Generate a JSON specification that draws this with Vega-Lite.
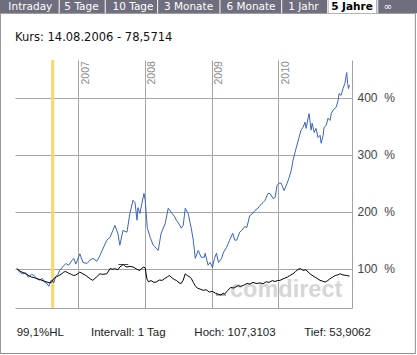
{
"$schema": "https://vega.github.io/schema/vega-lite/v6.json",
"width": 337, "height": 248,
"autosize": {"type": "none"},
"padding": {"left": 15, "top": 60, "right": 65, "bottom": 47},
"background": "white",
"config": {"view": {"stroke": null}, "font": "Liberation Sans"},
"datasets": {
"series": [
{"date":"2006-01-30","s":"A","value":100},{"date":"2006-02-15","s":"A","value":94},{"date":"2006-03-01","s":"A","value":91},{"date":"2006-03-18","s":"A","value":93},{"date":"2006-04-03","s":"A","value":85},{"date":"2006-04-20","s":"A","value":90},{"date":"2006-05-05","s":"A","value":88},{"date":"2006-05-20","s":"A","value":82},{"date":"2006-06-04","s":"A","value":80},{"date":"2006-06-18","s":"A","value":83},{"date":"2006-07-01","s":"A","value":76},{"date":"2006-07-14","s":"A","value":74},{"date":"2006-07-24","s":"A","value":69},{"date":"2006-08-04","s":"A","value":79},{"date":"2006-08-14","s":"A","value":78.6},{"date":"2006-08-20","s":"A","value":75},{"date":"2006-08-31","s":"A","value":86},{"date":"2006-09-12","s":"A","value":90},{"date":"2006-09-22","s":"A","value":97},{"date":"2006-10-08","s":"A","value":103},{"date":"2006-10-25","s":"A","value":109},{"date":"2006-11-10","s":"A","value":106},{"date":"2006-11-27","s":"A","value":114},{"date":"2006-12-08","s":"A","value":118},{"date":"2006-12-19","s":"A","value":108},{"date":"2007-01-10","s":"A","value":126},{"date":"2007-01-27","s":"A","value":111},{"date":"2007-02-18","s":"A","value":109},{"date":"2007-03-06","s":"A","value":115},{"date":"2007-03-23","s":"A","value":118},{"date":"2007-04-13","s":"A","value":113},{"date":"2007-04-30","s":"A","value":123},{"date":"2007-05-22","s":"A","value":139},{"date":"2007-06-07","s":"A","value":150},{"date":"2007-06-24","s":"A","value":155},{"date":"2007-07-10","s":"A","value":167},{"date":"2007-07-21","s":"A","value":176},{"date":"2007-08-06","s":"A","value":162},{"date":"2007-08-17","s":"A","value":141},{"date":"2007-09-03","s":"A","value":167},{"date":"2007-09-25","s":"A","value":164},{"date":"2007-10-11","s":"A","value":197},{"date":"2007-10-28","s":"A","value":220},{"date":"2007-11-08","s":"A","value":216},{"date":"2007-11-19","s":"A","value":185},{"date":"2007-11-24","s":"A","value":207},{"date":"2007-12-05","s":"A","value":197},{"date":"2007-12-16","s":"A","value":215},{"date":"2007-12-27","s":"A","value":232},{"date":"2008-01-03","s":"A","value":220},{"date":"2008-01-14","s":"A","value":172},{"date":"2008-01-30","s":"A","value":155},{"date":"2008-02-16","s":"A","value":141},{"date":"2008-03-03","s":"A","value":136},{"date":"2008-03-14","s":"A","value":132},{"date":"2008-03-30","s":"A","value":162},{"date":"2008-04-21","s":"A","value":179},{"date":"2008-05-08","s":"A","value":206},{"date":"2008-05-24","s":"A","value":199},{"date":"2008-06-10","s":"A","value":192},{"date":"2008-06-21","s":"A","value":185},{"date":"2008-07-07","s":"A","value":178},{"date":"2008-07-18","s":"A","value":171},{"date":"2008-07-29","s":"A","value":176},{"date":"2008-08-09","s":"A","value":206},{"date":"2008-08-25","s":"A","value":197},{"date":"2008-09-11","s":"A","value":171},{"date":"2008-09-22","s":"A","value":150},{"date":"2008-10-03","s":"A","value":118},{"date":"2008-10-19","s":"A","value":132},{"date":"2008-11-04","s":"A","value":120},{"date":"2008-11-21","s":"A","value":120},{"date":"2008-11-26","s":"A","value":127},{"date":"2008-12-12","s":"A","value":106},{"date":"2008-12-23","s":"A","value":111},{"date":"2009-01-05","s":"A","value":102},{"date":"2009-01-16","s":"A","value":118},{"date":"2009-01-27","s":"A","value":127},{"date":"2009-02-07","s":"A","value":111},{"date":"2009-02-24","s":"A","value":118},{"date":"2009-03-07","s":"A","value":129},{"date":"2009-03-23","s":"A","value":137},{"date":"2009-04-09","s":"A","value":150},{"date":"2009-04-26","s":"A","value":162},{"date":"2009-05-07","s":"A","value":150},{"date":"2009-05-18","s":"A","value":150},{"date":"2009-06-03","s":"A","value":164},{"date":"2009-06-14","s":"A","value":167},{"date":"2009-07-01","s":"A","value":174},{"date":"2009-07-12","s":"A","value":172},{"date":"2009-07-28","s":"A","value":193},{"date":"2009-08-14","s":"A","value":197},{"date":"2009-08-25","s":"A","value":202},{"date":"2009-09-11","s":"A","value":206},{"date":"2009-09-22","s":"A","value":211},{"date":"2009-10-09","s":"A","value":216},{"date":"2009-10-20","s":"A","value":220},{"date":"2009-11-05","s":"A","value":232},{"date":"2009-11-16","s":"A","value":232},{"date":"2009-12-03","s":"A","value":223},{"date":"2009-12-14","s":"A","value":225},{"date":"2009-12-25","s":"A","value":246},{"date":"2010-01-05","s":"A","value":250},{"date":"2010-01-16","s":"A","value":250},{"date":"2010-02-01","s":"A","value":237},{"date":"2010-02-18","s":"A","value":250},{"date":"2010-03-01","s":"A","value":260},{"date":"2010-03-12","s":"A","value":272},{"date":"2010-03-22","s":"A","value":290},{"date":"2010-04-08","s":"A","value":311},{"date":"2010-04-24","s":"A","value":330},{"date":"2010-05-05","s":"A","value":343},{"date":"2010-05-16","s":"A","value":348},{"date":"2010-05-27","s":"A","value":357},{"date":"2010-06-02","s":"A","value":346},{"date":"2010-06-13","s":"A","value":365},{"date":"2010-06-18","s":"A","value":372},{"date":"2010-06-29","s":"A","value":343},{"date":"2010-07-05","s":"A","value":355},{"date":"2010-07-16","s":"A","value":339},{"date":"2010-07-26","s":"A","value":346},{"date":"2010-08-06","s":"A","value":330},{"date":"2010-08-17","s":"A","value":334},{"date":"2010-08-23","s":"A","value":320},{"date":"2010-09-03","s":"A","value":334},{"date":"2010-09-08","s":"A","value":348},{"date":"2010-09-19","s":"A","value":351},{"date":"2010-09-30","s":"A","value":364},{"date":"2010-10-11","s":"A","value":360},{"date":"2010-10-17","s":"A","value":372},{"date":"2010-10-27","s":"A","value":378},{"date":"2010-11-13","s":"A","value":383},{"date":"2010-11-24","s":"A","value":395},{"date":"2010-11-29","s":"A","value":407},{"date":"2010-12-10","s":"A","value":404},{"date":"2010-12-21","s":"A","value":416},{"date":"2010-12-31","s":"A","value":425},{"date":"2011-01-10","s":"A","value":444},{"date":"2011-01-15","s":"A","value":425},{"date":"2011-01-20","s":"A","value":416},{"date":"2011-01-25","s":"A","value":422},
{"date":"2006-01-30","s":"I","value":100},{"date":"2006-02-15","s":"I","value":96},{"date":"2006-02-27","s":"I","value":94},{"date":"2006-03-13","s":"I","value":92},{"date":"2006-03-26","s":"I","value":90},{"date":"2006-04-10","s":"I","value":87},{"date":"2006-04-22","s":"I","value":85},{"date":"2006-05-08","s":"I","value":84},{"date":"2006-05-20","s":"I","value":82.5},{"date":"2006-06-05","s":"I","value":81},{"date":"2006-06-16","s":"I","value":79.5},{"date":"2006-07-01","s":"I","value":78},{"date":"2006-07-14","s":"I","value":76.5},{"date":"2006-07-31","s":"I","value":75},{"date":"2006-08-10","s":"I","value":77},{"date":"2006-08-20","s":"I","value":82.5},{"date":"2006-09-05","s":"I","value":86},{"date":"2006-09-18","s":"I","value":88},{"date":"2006-10-03","s":"I","value":91},{"date":"2006-10-14","s":"I","value":94},{"date":"2006-10-25","s":"I","value":95},{"date":"2006-11-10","s":"I","value":92},{"date":"2006-11-24","s":"I","value":90},{"date":"2006-12-08","s":"I","value":88},{"date":"2006-12-19","s":"I","value":89},{"date":"2007-01-03","s":"I","value":92},{"date":"2007-01-10","s":"I","value":94},{"date":"2007-01-27","s":"I","value":91},{"date":"2007-02-12","s":"I","value":88},{"date":"2007-03-06","s":"I","value":82.5},{"date":"2007-03-22","s":"I","value":79.5},{"date":"2007-04-10","s":"I","value":85},{"date":"2007-04-30","s":"I","value":91},{"date":"2007-05-15","s":"I","value":90},{"date":"2007-06-07","s":"I","value":91},{"date":"2007-06-24","s":"I","value":100},{"date":"2007-07-10","s":"I","value":99},{"date":"2007-07-21","s":"I","value":100},{"date":"2007-08-06","s":"I","value":98},{"date":"2007-08-17","s":"I","value":103},{"date":"2007-09-05","s":"I","value":107.3},{"date":"2007-09-15","s":"I","value":104},{"date":"2007-09-25","s":"I","value":103},{"date":"2007-10-11","s":"I","value":104},{"date":"2007-10-28","s":"I","value":103},{"date":"2007-11-13","s":"I","value":100},{"date":"2007-11-24","s":"I","value":98},{"date":"2007-12-05","s":"I","value":97},{"date":"2007-12-16","s":"I","value":101},{"date":"2007-12-27","s":"I","value":103},{"date":"2008-01-03","s":"I","value":101},{"date":"2008-01-12","s":"I","value":82},{"date":"2008-01-21","s":"I","value":77},{"date":"2008-02-04","s":"I","value":79},{"date":"2008-02-20","s":"I","value":76},{"date":"2008-03-03","s":"I","value":76.5},{"date":"2008-03-20","s":"I","value":80},{"date":"2008-04-05","s":"I","value":79.5},{"date":"2008-04-20","s":"I","value":83},{"date":"2008-05-05","s":"I","value":86},{"date":"2008-05-14","s":"I","value":88},{"date":"2008-05-28","s":"I","value":84},{"date":"2008-06-10","s":"I","value":81},{"date":"2008-06-21","s":"I","value":79.5},{"date":"2008-07-07","s":"I","value":75},{"date":"2008-07-18","s":"I","value":74},{"date":"2008-07-29","s":"I","value":80},{"date":"2008-08-09","s":"I","value":91},{"date":"2008-08-20","s":"I","value":88},{"date":"2008-08-31","s":"I","value":86},{"date":"2008-09-11","s":"I","value":83},{"date":"2008-09-22","s":"I","value":76},{"date":"2008-10-03","s":"I","value":70},{"date":"2008-10-14","s":"I","value":66},{"date":"2008-10-30","s":"I","value":64},{"date":"2008-11-16","s":"I","value":62},{"date":"2008-12-02","s":"I","value":63},{"date":"2008-12-19","s":"I","value":59},{"date":"2009-01-05","s":"I","value":60},{"date":"2009-01-21","s":"I","value":57},{"date":"2009-02-07","s":"I","value":55},{"date":"2009-02-20","s":"I","value":54},{"date":"2009-03-05","s":"I","value":57},{"date":"2009-03-13","s":"I","value":55.5},{"date":"2009-03-30","s":"I","value":62},{"date":"2009-04-15","s":"I","value":67},{"date":"2009-05-02","s":"I","value":66},{"date":"2009-05-24","s":"I","value":70},{"date":"2009-06-09","s":"I","value":69},{"date":"2009-06-26","s":"I","value":71},{"date":"2009-07-13","s":"I","value":74},{"date":"2009-07-30","s":"I","value":73},{"date":"2009-08-15","s":"I","value":76},{"date":"2009-09-01","s":"I","value":74},{"date":"2009-09-23","s":"I","value":75},{"date":"2009-10-09","s":"I","value":73.5},{"date":"2009-10-26","s":"I","value":77},{"date":"2009-11-11","s":"I","value":76},{"date":"2009-11-28","s":"I","value":79},{"date":"2009-12-14","s":"I","value":77.5},{"date":"2009-12-25","s":"I","value":79},{"date":"2010-01-10","s":"I","value":79.5},{"date":"2010-01-26","s":"I","value":82},{"date":"2010-02-18","s":"I","value":85},{"date":"2010-03-05","s":"I","value":88},{"date":"2010-03-22","s":"I","value":91},{"date":"2010-04-05","s":"I","value":95},{"date":"2010-04-19","s":"I","value":99},{"date":"2010-05-02","s":"I","value":100},{"date":"2010-05-16","s":"I","value":97},{"date":"2010-06-01","s":"I","value":98},{"date":"2010-06-13","s":"I","value":94},{"date":"2010-06-27","s":"I","value":90},{"date":"2010-07-21","s":"I","value":85},{"date":"2010-08-05","s":"I","value":82},{"date":"2010-08-17","s":"I","value":79.5},{"date":"2010-09-01","s":"I","value":78},{"date":"2010-09-14","s":"I","value":76.5},{"date":"2010-09-28","s":"I","value":79},{"date":"2010-10-11","s":"I","value":82.5},{"date":"2010-10-25","s":"I","value":85},{"date":"2010-11-08","s":"I","value":88},{"date":"2010-11-22","s":"I","value":89},{"date":"2010-12-05","s":"I","value":91},{"date":"2010-12-20","s":"I","value":89},{"date":"2011-01-10","s":"I","value":88},{"date":"2011-01-25","s":"I","value":87}
],
"years": [{"year":"2007","date":"2007-01-01"},{"year":"2008","date":"2008-01-01"},{"year":"2009","date":"2009-01-01"},{"year":"2010","date":"2010-01-01"}],
"hl": [{"date":"2007-09-05","value":107.31},{"date":"2009-02-20","value":53.91}]
},
"layer": [
{"data":{"values":[{}]},"mark":{"type":"rect","color":"#6e6e7e"},
 "encoding":{"x":{"datum":{"year":2005,"month":6,"date":1},"type":"temporal"},"x2":{"datum":{"year":2012,"month":12,"date":1}},"y":{"datum":600,"type":"quantitative"},"y2":{"datum":547.9}}},
{"data":{"values":[{}]},"mark":{"type":"rect","fill":"#ffffff","fillOpacity":0,"stroke":"#8c8c8c","strokeWidth":1},
 "encoding":{"x":{"datum":{"year":2005,"month":11,"date":1},"type":"temporal"},"x2":{"datum":{"year":2012,"month":1,"date":21}},"y":{"datum":547.9,"type":"quantitative"},"y2":{"datum":-48.8}}},
{"data":{"values":[{}]},"mark":{"type":"rect","color":"#ffffff"},
 "encoding":{"x":{"datum":{"year":2010,"month":10,"date":2},"type":"temporal"},"x2":{"datum":{"year":2011,"month":6,"date":22}},"y":{"datum":600,"type":"quantitative"},"y2":{"datum":547.9}}},
{"data":{"values":[{}]},"mark":{"type":"rule","color":"#ffffff"},"encoding":{"x":{"datum":{"year":2006,"month":9,"date":19},"type":"temporal"},"y":{"datum":600,"type":"quantitative"},"y2":{"datum":547.9}}},
{"data":{"values":[{}]},"mark":{"type":"rule","color":"#ffffff"},"encoding":{"x":{"datum":{"year":2007,"month":5,"date":29},"type":"temporal"},"y":{"datum":600,"type":"quantitative"},"y2":{"datum":547.9}}},
{"data":{"values":[{}]},"mark":{"type":"rule","color":"#ffffff"},"encoding":{"x":{"datum":{"year":2008,"month":3,"date":11},"type":"temporal"},"y":{"datum":600,"type":"quantitative"},"y2":{"datum":547.9}}},
{"data":{"values":[{}]},"mark":{"type":"rule","color":"#ffffff"},"encoding":{"x":{"datum":{"year":2009,"month":2,"date":15},"type":"temporal"},"y":{"datum":600,"type":"quantitative"},"y2":{"datum":547.9}}},
{"data":{"values":[{}]},"mark":{"type":"rule","color":"#ffffff"},"encoding":{"x":{"datum":{"year":2010,"month":1,"date":19},"type":"temporal"},"y":{"datum":600,"type":"quantitative"},"y2":{"datum":547.9}}},
{"data":{"values":[{}]},"mark":{"type":"rule","color":"#ffffff"},"encoding":{"x":{"datum":{"year":2010,"month":9,"date":28},"type":"temporal"},"y":{"datum":600,"type":"quantitative"},"y2":{"datum":547.9}}},
{"data":{"values":[{}]},"mark":{"type":"rule","color":"#ffffff"},"encoding":{"x":{"datum":{"year":2011,"month":6,"date":29},"type":"temporal"},"y":{"datum":600,"type":"quantitative"},"y2":{"datum":547.9}}},
{"data":{"values":[{"tab":"Intraday"}]},"mark":{"type":"text","font":"DejaVu Sans","fontSize":10.5,"color":"#ffffff","align":"center","baseline":"alphabetic"},"encoding":{"x":{"datum":{"year":2006,"month":4,"date":14},"type":"temporal"},"y":{"datum":554.2,"type":"quantitative"},"text":{"field":"tab"}}},
{"data":{"values":[{"tab":"5 Tage"}]},"mark":{"type":"text","font":"DejaVu Sans","fontSize":10.5,"color":"#ffffff","align":"center","baseline":"alphabetic"},"encoding":{"x":{"datum":{"year":2007,"month":1,"date":19},"type":"temporal"},"y":{"datum":554.2,"type":"quantitative"},"text":{"field":"tab"}}},
{"data":{"values":[{"tab":"10 Tage"}]},"mark":{"type":"text","font":"DejaVu Sans","fontSize":10.5,"color":"#ffffff","align":"center","baseline":"alphabetic"},"encoding":{"x":{"datum":{"year":2007,"month":10,"date":28},"type":"temporal"},"y":{"datum":554.2,"type":"quantitative"},"text":{"field":"tab"}}},
{"data":{"values":[{"tab":"3 Monate"}]},"mark":{"type":"text","font":"DejaVu Sans","fontSize":10.5,"color":"#ffffff","align":"center","baseline":"alphabetic"},"encoding":{"x":{"datum":{"year":2008,"month":8,"date":27},"type":"temporal"},"y":{"datum":554.2,"type":"quantitative"},"text":{"field":"tab"}}},
{"data":{"values":[{"tab":"6 Monate"}]},"mark":{"type":"text","font":"DejaVu Sans","fontSize":10.5,"color":"#ffffff","align":"center","baseline":"alphabetic"},"encoding":{"x":{"datum":{"year":2009,"month":8,"date":4},"type":"temporal"},"y":{"datum":554.2,"type":"quantitative"},"text":{"field":"tab"}}},
{"data":{"values":[{"tab":"1 Jahr"}]},"mark":{"type":"text","font":"DejaVu Sans","fontSize":10.5,"color":"#ffffff","align":"center","baseline":"alphabetic"},"encoding":{"x":{"datum":{"year":2010,"month":5,"date":18},"type":"temporal"},"y":{"datum":554.2,"type":"quantitative"},"text":{"field":"tab"}}},
{"data":{"values":[{"tab":"5 Jahre"}]},"mark":{"type":"text","font":"DejaVu Sans","fontSize":10.5,"fontWeight":"bold","color":"#000000","align":"center","baseline":"alphabetic"},"encoding":{"x":{"datum":{"year":2011,"month":2,"date":8},"type":"temporal"},"y":{"datum":554.2,"type":"quantitative"},"text":{"field":"tab"}}},
{"data":{"values":[{"tab":"∞"}]},"mark":{"type":"text","font":"DejaVu Sans","fontSize":10.5,"color":"#ffffff","align":"center","baseline":"alphabetic"},"encoding":{"x":{"datum":{"year":2011,"month":8,"date":24},"type":"temporal"},"y":{"datum":554.2,"type":"quantitative"},"text":{"field":"tab"}}},
{"data":{"values":[{"t":"Kurs: 14.08.2006 - 78,5714"}]},"mark":{"type":"text","font":"DejaVu Sans","fontSize":11.5,"color":"#111111","align":"left","baseline":"alphabetic"},"encoding":{"x":{"datum":{"year":2006,"month":1,"date":20},"type":"temporal"},"y":{"datum":500.2,"type":"quantitative"},"text":{"field":"t"}}},
{"data":{"values":[{"t":"99,1%HL"}]},"mark":{"type":"text","fontSize":11.5,"color":"#222222","align":"left","baseline":"alphabetic"},"encoding":{"x":{"datum":{"year":2006,"month":1,"date":29},"type":"temporal"},"y":{"datum":-17.6,"type":"quantitative"},"text":{"field":"t"}}},
{"data":{"values":[{"t":"Intervall: 1 Tag"}]},"mark":{"type":"text","fontSize":11.5,"color":"#222222","align":"left","baseline":"alphabetic"},"encoding":{"x":{"datum":{"year":2007,"month":3,"date":12},"type":"temporal"},"y":{"datum":-17.6,"type":"quantitative"},"text":{"field":"t"}}},
{"data":{"values":[{"t":"Hoch: 107,3103"}]},"mark":{"type":"text","fontSize":11.5,"color":"#222222","align":"left","baseline":"alphabetic"},"encoding":{"x":{"datum":{"year":2008,"month":9,"date":28},"type":"temporal"},"y":{"datum":-17.6,"type":"quantitative"},"text":{"field":"t"}}},
{"data":{"values":[{"t":"Tief: 53,9062"}]},"mark":{"type":"text","fontSize":11.5,"color":"#222222","align":"left","baseline":"alphabetic"},"encoding":{"x":{"datum":{"year":2010,"month":5,"date":22},"type":"temporal"},"y":{"datum":-17.6,"type":"quantitative"},"text":{"field":"t"}}},
{"data":{"values":[{"t":"comdirect"}]},"mark":{"type":"text","fontSize":23.5,"fontWeight":"bold","color":"#d6d6d6","align":"left","baseline":"alphabetic"},"encoding":{"x":{"datum":{"year":2009,"month":4,"date":11},"type":"temporal"},"y":{"datum":50.8,"type":"quantitative"},"text":{"field":"t"}}},
{"data":{"values":[{}]},"mark":{"type":"rule","color":"#fdd66b","strokeWidth":3},"encoding":{"x":{"datum":{"year":2006,"month":8,"date":14},"type":"temporal"}}},
{"data":{"name":"series"},"mark":{"type":"line","strokeWidth":1,"interpolate":"linear"},
 "encoding":{
  "x":{"field":"date","type":"temporal","scale":{"domain":[{"year":2006,"month":1,"date":20},{"year":2011,"month":2,"date":8}]},
       "axis":{"orient":"bottom","title":null,"values":[{"year":2007,"month":1,"date":1},{"year":2008,"month":1,"date":1},{"year":2009,"month":1,"date":1},{"year":2010,"month":1,"date":1}],"labels":false,"ticks":false,"grid":true,"gridColor":"#a4a4a4","gridOpacity":1,"domain":true,"domainColor":"#a4a4a4"}},
  "y":{"field":"value","type":"quantitative","scale":{"domain":[31,466],"nice":false,"zero":false},
       "axis":{"orient":"right","title":null,"values":[100,200,300,400],"labelExpr":"datum.value + ' \u00a0%'","labelFont":"Liberation Sans","labelFontSize":12,"labelColor":"#444444","labelPadding":5,"ticks":false,"grid":true,"gridColor":"#a4a4a4","gridOpacity":1,"domain":true,"domainColor":"#a4a4a4"}},
  "color":{"field":"s","type":"nominal","scale":{"domain":["A","I"],"range":["#3a64c2","#000000"]},"legend":null},
  "order":{"field":"date","type":"temporal"}
 }},
{"data":{"name":"hl"},"mark":{"type":"tick","orient":"horizontal","size":10,"thickness":1,"color":"#000000"},
 "encoding":{"x":{"field":"date","type":"temporal"},"y":{"field":"value","type":"quantitative"}}},
{"data":{"name":"years"},"mark":{"type":"text","angle":270,"align":"left","baseline":"alphabetic","dy":10.5,"fontSize":10.5,"color":"#8a8a8a"},
 "encoding":{"x":{"field":"date","type":"temporal"},"y":{"datum":423,"type":"quantitative"},"text":{"field":"year"}}}
]
}
